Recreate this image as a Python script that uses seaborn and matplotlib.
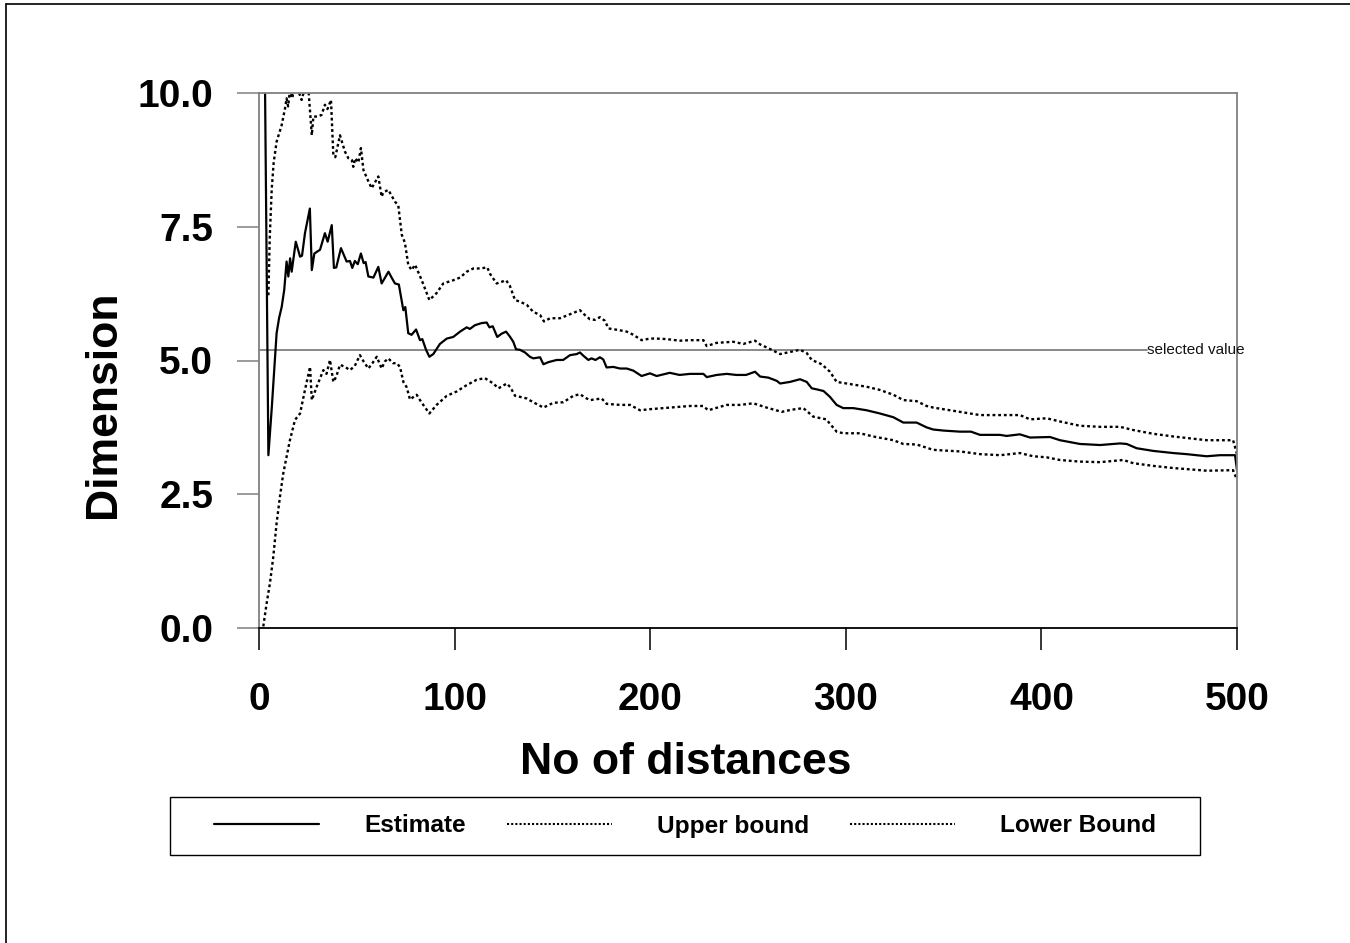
import matplotlib
matplotlib.use("Agg")
import matplotlib.pyplot as plt
import seaborn as sns
import pandas as pd
from matplotlib.lines import Line2D
from matplotlib.patches import Rectangle

# ---------------- data ----------------
est_x = [2.0, 3.0, 4.8, 6.5, 9.0, 10.3, 11.6, 12.9, 14.1, 15.0, 15.9, 16.7, 18.8, 21.0, 22.0,
         23.5, 26.0, 27.0, 28.3, 31.2, 33.7, 35.1, 37.2, 38.3, 39.5, 41.9, 44.8, 46.5, 47.7,
         49.0, 50.5, 52.1, 53.5, 54.5, 55.9, 58.5, 61.0, 62.7, 66.2, 67.8, 69.5, 71.5, 73.8,
         74.8, 76.3, 78.0, 80.3, 82.3, 83.5, 85.4, 87.1, 89.1, 92.5, 96.0, 99.3, 102.8, 106.2,
         107.8, 110.4, 113.9, 116.4, 117.8, 119.5, 121.8, 124.0, 126.3, 128.2, 130.0, 131.4,
         133.4, 136.0, 138.5, 140.2, 143.7, 145.4, 148.0, 152.2, 155.5, 159.0, 162.4, 164.1,
         165.8, 168.4, 170.0, 172.0, 174.3, 176.0, 177.7, 181.1, 184.6, 188.0, 191.4, 195.6,
         199.9, 203.3, 210.0, 215.0, 220.4, 227.2, 228.9, 234.0, 239.1, 244.0, 249.0, 253.6,
         256.2, 260.4, 264.7, 266.4, 271.5, 276.6, 280.0, 282.6, 285.2, 288.6, 291.9, 295.3,
         298.7, 303.8, 310.6, 317.4, 324.3, 329.4, 336.2, 341.3, 344.7, 350.0, 358.4, 364.0,
         368.6, 378.8, 382.2, 389.0, 394.2, 404.4, 409.5, 419.7, 430.0, 440.2, 443.6, 448.7,
         457.2, 467.4, 474.2, 484.5, 491.3, 499.0, 500.0]
est_y = [14.5, 10.4, 3.23, 4.1, 5.51, 5.80, 6.00, 6.32, 6.85, 6.57, 6.91, 6.66, 7.22, 6.94, 6.96,
         7.38, 7.84, 6.69, 7.00, 7.07, 7.38, 7.22, 7.53, 6.73, 6.74, 7.10, 6.85, 6.86, 6.73,
         6.86, 6.80, 7.00, 6.82, 6.84, 6.57, 6.55, 6.75, 6.44, 6.66, 6.55, 6.44, 6.42, 5.94,
         6.00, 5.51, 5.48, 5.58, 5.38, 5.40, 5.20, 5.07, 5.12, 5.31, 5.41, 5.44, 5.54, 5.62,
         5.59, 5.66, 5.70, 5.71, 5.62, 5.64, 5.44, 5.50, 5.54, 5.45, 5.35, 5.21,
         5.20, 5.15, 5.07, 5.04, 5.06, 4.93, 4.97, 5.01, 5.01, 5.10, 5.12, 5.15,
         5.09, 5.01, 5.04, 5.01, 5.06, 5.02, 4.87, 4.88, 4.85, 4.85, 4.81, 4.71,
         4.76, 4.71, 4.77, 4.73, 4.75, 4.75, 4.69, 4.73, 4.75, 4.73, 4.73, 4.79,
         4.70, 4.68, 4.62, 4.57, 4.60, 4.65, 4.60, 4.48, 4.46, 4.43, 4.32, 4.17,
         4.11, 4.11, 4.07, 4.01, 3.94, 3.84, 3.84, 3.75, 3.71, 3.69, 3.67, 3.67,
         3.61, 3.61, 3.59, 3.62, 3.56, 3.57, 3.51, 3.44, 3.42, 3.45, 3.44, 3.36,
         3.31, 3.27, 3.25, 3.21, 3.23, 3.23, 2.95]

up_x = [4.8, 5.5, 6.5, 7.5, 9.0, 11.6, 13.3, 14.1, 14.9, 15.8, 17.0, 18.0, 19.3, 20.5, 21.8,
        23.5, 25.2, 27.0, 27.8, 30.0, 32.0, 33.7, 35.0, 36.8, 38.0, 39.0, 41.4, 42.7, 44.0,
        45.7, 47.4, 48.2, 49.2, 50.8, 52.1, 53.4, 55.9, 57.6, 61.0, 62.7, 63.5, 66.1, 67.8,
        69.5, 71.2, 73.0, 74.6, 76.3, 78.0, 79.8, 83.2, 87.1, 90.8, 94.2, 99.3, 102.8, 106.2,
        109.6, 113.0, 116.7, 118.1, 121.5, 124.0, 126.3, 128.2, 130.9, 133.4, 136.9, 140.2,
        143.7, 145.7, 148.8, 153.9, 157.3, 160.7, 164.1, 166.6, 169.2, 171.7, 174.3, 176.9,
        178.6, 183.7, 188.0, 191.4, 195.6, 199.9, 203.0, 208.4, 215.0, 220.4, 227.2, 228.9,
        234.0, 242.5, 247.6, 253.6, 256.2, 260.4, 266.4, 271.5, 276.6, 280.0, 282.6, 287.7,
        291.9, 295.3, 300.4, 310.6, 317.4, 324.3, 329.4, 336.2, 341.3, 344.7, 358.4, 368.6,
        389.0, 394.2, 402.7, 409.5, 419.7, 430.0, 440.2, 447.0, 457.2, 467.4, 484.5, 498.0, 500.0]
up_y = [6.22, 7.3, 8.2, 8.7, 9.09, 9.40, 9.71, 9.90, 9.75, 10.05, 9.90, 10.1, 10.05, 10.0, 9.87,
        10.1, 10.1, 9.21, 9.56, 9.56, 9.59, 9.78, 9.70, 9.87, 8.84, 8.80, 9.21, 9.05, 8.90,
        8.78, 8.75, 8.62, 8.78, 8.70, 8.97, 8.56, 8.35, 8.22, 8.44, 8.06, 8.14, 8.19, 8.08,
        7.97, 7.90, 7.35, 7.20, 6.79, 6.69, 6.79, 6.50, 6.13, 6.26, 6.44, 6.50, 6.55, 6.66,
        6.72, 6.72, 6.74, 6.62, 6.44, 6.47, 6.50, 6.40, 6.13, 6.10, 6.04, 5.91,
        5.85, 5.73, 5.79, 5.79, 5.84, 5.89, 5.94, 5.85, 5.77, 5.76, 5.81, 5.74,
        5.60, 5.57, 5.54, 5.48, 5.38, 5.41, 5.41, 5.40, 5.37, 5.38, 5.38, 5.27,
        5.33, 5.35, 5.31, 5.37, 5.30, 5.23, 5.12, 5.16, 5.20, 5.14, 5.01, 4.93,
        4.79, 4.60, 4.57, 4.51, 4.45, 4.36, 4.26, 4.24, 4.15, 4.12, 4.04, 3.98,
        3.98, 3.90, 3.92, 3.86, 3.78, 3.76, 3.76, 3.70, 3.63, 3.58, 3.51, 3.51, 3.25]

lo_x = [2.2, 3.9, 5.6, 7.3, 9.0, 10.7, 12.4, 14.1, 15.8, 18.4, 21.0, 23.5, 26.1, 27.0, 29.5,
        32.9, 34.5, 36.3, 38.0, 39.5, 41.4, 44.0, 46.5, 49.0, 51.6, 53.5, 55.9, 58.0, 60.2,
        62.7, 64.3, 66.1, 68.5, 70.4, 72.1, 73.8, 75.5, 77.2, 79.0, 80.6, 83.0, 87.1, 90.8,
        96.0, 101.0, 106.2, 111.3, 115.5, 119.8, 122.4, 126.7, 128.5, 130.9, 133.5, 136.9,
        140.2, 145.4, 150.5, 155.6, 160.7, 164.1, 167.0, 169.2, 175.2, 177.7, 184.6, 189.7,
        194.8, 199.9, 210.1, 220.4, 227.0, 229.7, 239.1, 246.0, 252.7, 259.5, 267.2, 272.3,
        278.3, 283.4, 290.0, 295.3, 298.7, 307.2, 314.0, 324.3, 329.4, 336.2, 344.7, 358.4,
        368.6, 379.0, 389.0, 395.8, 402.7, 409.5, 419.7, 430.0, 441.9, 447.0, 457.2, 467.4,
        484.5, 498.0, 500.0]
lo_y = [0.03, 0.46, 0.84, 1.33, 1.96, 2.45, 2.89, 3.20, 3.51, 3.89, 4.01, 4.45, 4.88, 4.26, 4.51,
        4.82, 4.75, 5.01, 4.60, 4.70, 4.92, 4.88, 4.82, 4.90, 5.10, 4.98, 4.85, 4.95, 5.07,
        4.85, 4.98, 5.04, 4.95, 4.95, 4.88, 4.60, 4.50, 4.27, 4.32, 4.36, 4.22, 4.01, 4.17,
        4.34, 4.42, 4.54, 4.64, 4.67, 4.57, 4.48, 4.57, 4.50, 4.34, 4.32, 4.29,
        4.22, 4.12, 4.21, 4.22, 4.34, 4.37, 4.30, 4.26, 4.29, 4.19, 4.17, 4.17,
        4.07, 4.09, 4.12, 4.15, 4.15, 4.07, 4.17, 4.17, 4.20, 4.12, 4.04, 4.08,
        4.11, 3.95, 3.90, 3.67, 3.64, 3.64, 3.58, 3.51, 3.44, 3.43, 3.33, 3.30,
        3.25, 3.23, 3.27, 3.21, 3.19, 3.14, 3.11, 3.10, 3.14, 3.08, 3.03, 2.99,
        2.94, 2.95, 2.77]

selected_value = 5.2
x_ticks = [0, 100, 200, 300, 400, 500]
y_ticks = [0.0, 2.5, 5.0, 7.5, 10.0]
y_tick_labels = ["0.0", "2.5", "5.0", "7.5", "10.0"]
series_names = ["Estimate", "Upper bound", "Lower Bound"]

# ---------------- figure ----------------
sns.set_theme(style="white")
plt.rcParams["font.family"] = ["Liberation Sans", "DejaVu Sans"]
plt.rcParams["text.color"] = "black"
plt.rcParams["axes.labelcolor"] = "black"
plt.rcParams["xtick.color"] = "black"
plt.rcParams["ytick.color"] = "black"

W, H = 1350, 943
fig = plt.figure(figsize=(W / 100, H / 100), dpi=100)
ax = fig.add_axes([259 / W, 1 - 628 / H, (1237 - 259) / W, (628 - 93) / H])

dot = (0, (1.2, 1.2))
df_est = pd.DataFrame({"x": est_x, "y": est_y})
df_up = pd.DataFrame({"x": up_x, "y": up_y})
df_lo = pd.DataFrame({"x": lo_x, "y": lo_y})
sns.lineplot(data=df_est, x="x", y="y", ax=ax, color="black", lw=1.6,
             estimator=None, sort=False)
sns.lineplot(data=df_up, x="x", y="y", ax=ax, color="black", lw=1.7,
             linestyle=dot, estimator=None, sort=False)
sns.lineplot(data=df_lo, x="x", y="y", ax=ax, color="black", lw=1.7,
             linestyle=dot, estimator=None, sort=False)

# selected value line + label
ax.plot([0, 454], [selected_value, selected_value], color="#808080", lw=1.3, zorder=1)
ax.text(454, selected_value, "selected value", fontsize=11, color="#111111",
        ha="left", va="center", clip_on=False)

ax.set_xlim(0, 500)
ax.set_ylim(0, 10)
ax.set_xticks(x_ticks)
ax.set_yticks(y_ticks)
ax.set_yticklabels(y_tick_labels)

for s in ["left", "top", "right"]:
    ax.spines[s].set_color("#808080")
    ax.spines[s].set_linewidth(1.3)
ax.spines["bottom"].set_color("black")
ax.spines["bottom"].set_linewidth(1.3)

ax.tick_params(axis="x", bottom=True, direction="out", length=16, width=1.1,
               color="black", labelcolor="black", pad=23, labelsize=28)
ax.tick_params(axis="y", left=True, direction="out", length=16, width=1.1,
               color="#808080", labelcolor="black", pad=17, labelsize=28)
for lab in ax.get_xticklabels() + ax.get_yticklabels():
    lab.set_fontweight("bold")

ax.set_xlabel("No of distances", fontsize=32, fontweight="bold", color="black")
ax.set_ylabel("Dimension", fontsize=32, fontweight="bold", labelpad=10,
              color="black")
ax.xaxis.set_label_coords((686 - 259) / 978, -0.213)
ax.xaxis.label.set_va("top")
ax.yaxis.label.set_y((628 - 404) / 535)

# legend with a separate frame
handles = [
    Line2D([], [], color="black", lw=1.6),
    Line2D([], [], color="black", lw=1.5, linestyle=(0, (1.0, 1.0))),
    Line2D([], [], color="black", lw=1.5, linestyle=(0, (1.0, 1.0))),
]
leg = fig.legend(handles, series_names, loc="center", ncol=3,
                 bbox_to_anchor=(685 / W, 1 - 826 / H), frameon=False,
                 prop={"family": "Liberation Sans", "weight": "bold", "size": 17.6},
                 handlelength=4.3, handletextpad=1.84, columnspacing=1.68)
for t in leg.get_texts():
    t.set_color("black")
fig.add_artist(Rectangle((170 / W, 1 - 855 / H), (1200 - 170) / W, (855 - 797) / H,
                         transform=fig.transFigure, fill=False, edgecolor="black", lw=1.0))

# outer page border (left and top visible)
fig.add_artist(Line2D([6 / W, 6 / W], [0, 1 - 4 / H], transform=fig.transFigure,
                      color="black", lw=1.2))
fig.add_artist(Line2D([6 / W, 1], [1 - 4 / H, 1 - 4 / H], transform=fig.transFigure,
                      color="black", lw=1.2))

fig.savefig("out.png", dpi=100)
